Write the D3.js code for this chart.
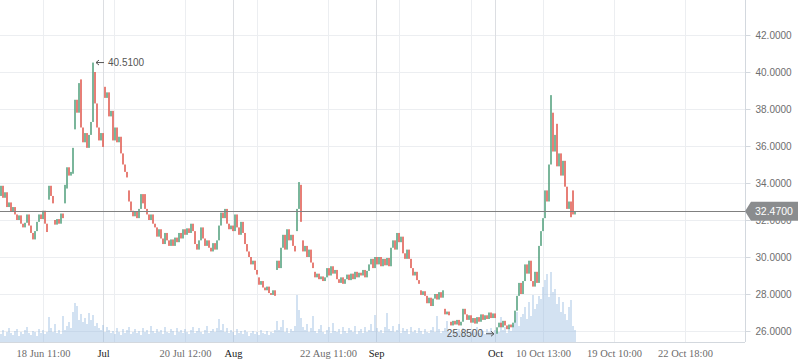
<!DOCTYPE html>
<html><head><meta charset="utf-8">
<script src="https://cdn.jsdelivr.net/npm/d3@7"></script>
<style>body{margin:0;background:#fff} svg{display:block}</style>
</head><body>
<svg id="c" width="798" height="363"></svg>
<script>
const opens = [33.3,33.85,33.2,33.5,32.7,32.95,32.45,32.7,32.3,32.0,
 32.25,31.8,31.6,31.85,32.3,31.7,31.3,30.95,31.4,31.9,
 32.3,32.05,32.5,31.8,33.1,33.85,33.3,32.0,31.75,32.05,
 31.8,32.35,32.9,33.7,34.85,34.4,34.5,36.9,38.5,37.8,
 39.6,37.0,36.2,36.7,35.9,36.6,37.3,40.0,38.3,37.0,
 36.3,36.7,39.2,38.6,38.9,37.6,37.9,36.3,37.0,36.2,
 36.5,35.6,35.0,34.6,33.6,33.0,32.5,32.2,32.45,32.1,
 32.6,33.4,33.4,32.6,32.3,32.0,32.3,31.8,31.6,31.1,
 31.5,31.0,30.7,31.3,30.9,30.6,30.95,30.6,31.05,30.8,
 31.3,31.0,31.5,31.2,31.55,31.3,31.8,31.4,30.7,30.4,
 30.9,31.6,31.0,30.6,30.9,30.5,30.3,30.75,30.4,30.9,
 31.7,32.4,32.1,32.6,31.8,31.5,31.7,31.4,32.3,31.6,
 31.2,31.9,31.3,30.7,30.3,30.0,29.6,29.8,29.3,28.9,
 28.5,28.7,28.35,28.2,28.4,28.05,27.95,28.2,29.3,29.8,
 29.4,30.5,31.2,30.4,31.5,30.9,31.2,30.6,31.4,32.6,
 33.9,30.9,30.3,30.6,30.0,30.4,29.7,29.2,28.9,29.1,
 28.8,28.95,28.7,28.9,29.4,29.0,29.5,29.1,29.3,28.8,
 28.6,28.9,28.55,28.8,29.05,28.75,29.1,28.8,29.2,28.9,
 29.15,29.0,29.3,28.9,29.25,29.6,29.9,29.4,30.0,29.6,
 30.0,29.5,29.9,29.55,29.95,29.5,30.5,30.9,30.4,31.3,
 30.8,31.1,30.2,29.9,30.4,29.9,29.4,29.0,29.2,28.75,
 28.2,27.95,28.15,27.9,27.5,27.8,27.35,27.75,28.0,27.7,
 28.1,27.8,27.2,26.9,27.05,26.5,26.3,26.55,26.35,26.6,
 26.3,26.5,27.2,26.9,26.6,26.85,26.45,26.7,26.4,26.75,
 26.5,26.9,26.6,26.85,26.65,27.0,26.7,26.95,25.85,26.2,
 26.45,26.2,26.55,26.3,26.1,26.35,26.2,26.45,27.1,27.9,
 28.6,28.0,28.7,29.6,29.1,29.8,28.7,28.4,29.2,28.6,
 30.6,31.4,32.1,33.6,33.0,35.0,37.8,35.7,37.2,34.9,
 35.6,34.4,35.2,33.8,32.6,33.0,33.6,32.3];

const closes = [33.85,33.2,33.5,32.7,32.95,32.45,32.7,32.3,32.0,32.25,
 31.8,31.6,31.85,32.3,31.7,31.3,30.95,31.4,31.9,32.3,
 32.05,32.5,31.8,31.35,33.85,33.3,32.9,31.75,32.05,31.8,
 32.35,32.1,33.9,34.85,34.4,34.6,35.9,38.5,37.8,39.4,
 37.0,36.2,36.7,35.9,36.6,37.3,40.51,38.3,37.0,36.3,
 36.7,35.95,38.6,38.9,37.6,37.9,36.3,37.0,36.2,36.5,
 35.6,35.0,34.6,34.3,33.0,32.5,32.2,32.45,32.1,32.6,
 33.4,32.9,32.6,32.3,32.0,32.3,31.8,31.6,31.1,31.5,
 31.0,30.7,31.3,30.9,30.6,30.95,30.6,31.05,30.8,31.3,
 31.0,31.5,31.2,31.55,31.3,31.8,31.4,30.7,30.4,30.9,
 31.6,31.0,30.6,30.9,30.5,30.3,30.75,30.4,30.9,31.7,
 32.4,32.1,32.6,31.8,31.5,31.7,31.4,32.3,31.6,31.2,
 31.9,31.3,30.7,30.3,30.0,29.6,29.8,29.3,29.05,28.5,
 28.7,28.35,28.2,28.4,28.05,27.95,28.2,27.9,29.8,29.4,
 30.5,31.2,30.4,31.5,30.9,31.2,30.6,30.3,32.6,34.05,
 31.9,30.3,30.6,30.0,30.4,29.7,29.4,28.9,29.1,28.8,
 28.95,28.7,28.9,29.4,29.0,29.5,29.1,29.3,28.8,28.6,
 28.9,28.55,28.8,29.05,28.75,29.1,28.8,29.2,28.9,29.15,
 29.0,29.3,28.9,29.25,29.6,29.9,29.4,30.0,29.6,30.0,
 29.5,29.9,29.55,29.95,29.5,30.5,30.9,30.4,31.3,30.8,
 31.1,30.2,29.9,30.4,29.9,29.4,29.0,29.2,28.75,28.55,
 27.95,28.15,27.9,27.5,27.8,27.35,27.75,28.0,27.7,28.1,
 27.8,28.2,26.9,27.05,26.85,26.3,26.55,26.35,26.6,26.3,
 26.5,27.2,26.9,26.6,26.85,26.45,26.7,26.4,26.75,26.5,
 26.9,26.6,26.85,26.65,27.0,26.7,26.95,26.7,26.2,26.45,
 26.2,26.55,26.3,26.1,26.35,26.2,26.45,27.1,27.9,28.6,
 28.0,28.7,29.6,29.1,29.8,28.7,28.4,29.2,28.6,30.6,
 31.4,32.1,33.6,33.0,35.0,38.75,35.7,36.6,34.9,35.6,
 34.4,35.2,33.8,32.6,33.0,32.15,32.3,32.47];

const volumes = [8,12,6,10,14,9,7,11,13,6,10,8,12,15,9,7,11,10,6,13,9,12,8,10,
 25,14,10,18,9,12,8,26,
 12,16,20,14,30,39,36,22,
 28,20,24,18,29,22,27,16,
 19,14,12,17,10,15,12,9,
 11,8,14,10,7,13,9,12,15,8,10,13,
 9,11,7,14,10,12,8,16,11,9,13,10,
 12,8,15,10,9,13,11,7,14,10,12,9,
 13,10,8,12,15,9,11,14,10,8,12,16,9,11,13,10,
 14,23,12,18,10,14,9,12,
 10,7,13,9,11,8,12,10,6,9,11,8,10,7,12,9,8,11,7,10,9,12,
 21,12,15,22,10,14,9,13,11,16,
 47,32,24,15,
 12,18,10,14,26,11,9,13,17,10,8,12,15,9,19,11,
 10,13,8,15,11,9,14,12,10,16,8,11,13,9,15,10,12,18,11,27,
 14,10,12,9,15,29,13,11,16,10,12,18,9,14,11,13,8,15,10,12,9,14,
 11,8,13,10,9,12,15,10,26,13,9,11,14,21,10,8,12,9,11,13,
 10,14,9,12,8,11,13,10,15,9,12,11,8,13,10,14,9,12,11,10,
 25,12,15,9,14,11,17,
 22,30,16,25,28,35,23,
 40,26,47,33,38,46,43,
 55,62,68,45,70,50,
 53,38,45,30,40,28,
 22,35,42,16,12];

const tickIndex  = [21, 51, 56.5, 92, 116, 128, 163.5, 187.5, 199, 235, 247, 271, 306.5, 342];
const tickLabels = ["18 Jun 11:00","Jul","","20 Jul 12:00","Aug","","22 Aug 11:00","Sep","","","Oct","10 Oct 13:00","19 Oct 10:00","22 Oct 18:00"];
const tickMonth  = [false,true,false,false,true,false,false,true,false,false,true,false,false,false];
const priceTicks = [26,28,30,32,34,36,38,40,42];
const lastPrice = 32.47;

const W = 798, H = 363, plotR = 745, plotB = 342;
const svg = d3.select("#c");
const x = d3.scaleLinear().domain([-0.5, 372]).range([0, plotR]);
const y = d3.scaleLinear().domain([26, 42]).range([331, 35]);
const v = d3.scaleLinear().domain([0, 80]).range([plotB, plotB - 80]);

// grid
const grid = svg.append("g");
grid.selectAll("line.h").data(priceTicks).join("line")
  .attr("x1", 0).attr("x2", plotR)
  .attr("y1", d => Math.round(y(d)) + 0.5).attr("y2", d => Math.round(y(d)) + 0.5)
  .attr("stroke", "#eceef1").attr("stroke-width", 1);
grid.selectAll("line.v").data(tickIndex).join("line")
  .attr("x1", d => Math.round(x(d)) + 0.5).attr("x2", d => Math.round(x(d)) + 0.5)
  .attr("y1", 0).attr("y2", plotB)
  .attr("stroke", (d, i) => tickMonth[i] ? "#dcdee2" : "#eceef1").attr("stroke-width", 1);

// volume
svg.append("g").selectAll("rect").data(volumes).join("rect")
  .attr("x", (d, i) => x(i) - 1)
  .attr("width", 2)
  .attr("y", d => v(d))
  .attr("height", d => plotB - v(d))
  .attr("fill", "rgba(150,185,225,0.42)");

// candles
const bars = closes.map((c, i) => ({i, o: opens[i], c}));
svg.append("g").selectAll("rect").data(bars).join("rect")
  .attr("x", d => x(d.i) - 0.75)
  .attr("width", 1.5)
  .attr("y", d => y(Math.max(d.o, d.c)))
  .attr("height", d => Math.max(1, Math.abs(y(d.o) - y(d.c))))
  .attr("fill", d => d.c >= d.o ? "#4f9f7b" : "#e0564b");

// last price line
svg.append("line").attr("x1", 0).attr("x2", plotR)
  .attr("y1", Math.round(y(lastPrice)) + 0.5).attr("y2", Math.round(y(lastPrice)) + 0.5)
  .attr("stroke", "#808080").attr("stroke-width", 1);

// x axis
const xAxis = d3.axisBottom(x).tickValues(tickIndex)
  .tickFormat((d, i) => tickLabels[i]).tickSize(0).tickPadding(8);
const gx = svg.append("g").attr("transform", `translate(0,${plotB})`).call(xAxis);
gx.select(".domain").attr("stroke", "#d3d8de").attr("d", `M0,0.5H${plotR}`);
gx.selectAll("text")
  .attr("font-family", "'Liberation Serif', serif").attr("font-size", 10.5)
  .attr("fill", (d, i) => tickMonth[i] ? "#1a1a1a" : "#6b6b6b");

// y axis
const yAxis = d3.axisRight(y).tickValues(priceTicks).tickFormat(d3.format(".4f"))
  .tickSize(5).tickPadding(5);
const gy = svg.append("g").attr("transform", `translate(${plotR + 0.5},0)`).call(yAxis);
gy.select(".domain").attr("stroke", "#d3d8de").attr("d", `M0,0V${plotB}`);
gy.selectAll(".tick line").attr("stroke", "#d3d8de");
gy.selectAll("text").attr("font-family", "'Liberation Sans', Arial, sans-serif")
  .attr("font-size", 10).attr("fill", "#6e6e6e");

// last price label
const ly = y(lastPrice);
svg.append("path")
  .attr("d", `M${plotR},${ly} L${plotR + 6},${ly - 9.5} H${W} V${ly + 9.5} H${plotR + 6} Z`)
  .attr("fill", "#8a8c8e");
svg.append("text").attr("x", plotR + 10).attr("y", ly).attr("dy", "0.35em")
  .attr("font-family", "'Liberation Sans', Arial, sans-serif").attr("font-size", 10.5)
  .attr("fill", "#fff").text(d3.format(".4f")(lastPrice));

// high / low annotations
const highs = bars.map(d => Math.max(d.o, d.c));
const lows = bars.map(d => Math.min(d.o, d.c));
const hi = d3.maxIndex(highs), lo = d3.minIndex(lows);
const hx = x(hi), hy = y(highs[hi]);
const ann = svg.append("g").attr("font-family", "'Liberation Sans', Arial, sans-serif")
  .attr("font-size", 10).attr("fill", "#555");
ann.append("path").attr("d", `M${hx + 3},${hy} H${hx + 11} M${hx + 3},${hy} l3,-2.5 M${hx + 3},${hy} l3,2.5`)
  .attr("stroke", "#555").attr("fill", "none");
ann.append("text").attr("x", hx + 15).attr("y", hy).attr("dy", "0.35em").text(d3.format(".4f")(highs[hi]));
const lx = x(lo), lyy = y(lows[lo]);
ann.append("path").attr("d", `M${lx - 3},${lyy} H${lx - 11} M${lx - 3},${lyy} l-3,-2.5 M${lx - 3},${lyy} l-3,2.5`)
  .attr("stroke", "#555").attr("fill", "none");
ann.append("text").attr("x", lx - 14).attr("y", lyy).attr("dy", "0.35em")
  .attr("text-anchor", "end").text(d3.format(".4f")(lows[lo]));
</script>
</body></html>
